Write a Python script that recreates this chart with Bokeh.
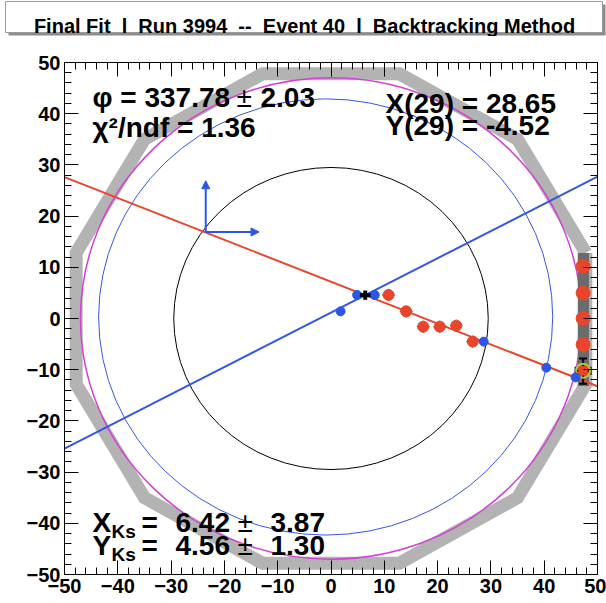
import math
from bokeh.plotting import figure
from bokeh.layouts import column
from bokeh.core.properties import value
from bokeh.models import (Label, Arrow, NormalHead, FixedTicker, LinearAxis, Range1d)
from bokeh.embed import file_html
from bokeh.resources import INLINE

# ---------------- data ----------------
title_text = "Final Fit  l  Run 3994  --  Event 40  l  Backtracking Method"

phi_deg = 337.78
phi_err = 2.03
chi2_ndf = 1.36
r_ref = 29
x_at_r = 28.65
y_at_r = -4.52
x_ks = 6.42
x_ks_err = 3.87
y_ks = 4.56
y_ks_err = 1.30
second_line_slope = 0.531

# hits near the middle (red) and on the outer bar (red)
hit_x = [10.8, 14.1, 17.3, 20.4, 23.5, 26.6]
hit_y = [4.6, 1.4, -1.6, -1.6, -1.4, -4.5]
bar_hit_x = [47.3, 47.3, 47.3, 47.3, 47.3]
bar_hit_y = [10.2, 5.0, 0.0, -5.1, -10.2]
hit_err = 1.2

# blue points (intersections / vertices)
blue_x = [1.8, 4.9, 8.2, 28.65, 40.4, 45.9]
blue_y = [1.4, 4.6, 4.6, -4.52, -9.6, -11.5]

# matched hit on the bar with its error bars
match_x = 47.3
match_y = -10.2
match_x_lo, match_x_hi = 45.9, 48.7
match_y_lo, match_y_hi = -12.75, -7.8

# outer bar (dark rectangle)
bar_left, bar_right, bar_bottom, bar_top = 46.3, 48.4, -13.2, 12.8

# rings
outer_poly_radius = 49.5
outer_poly_sides = 12
magenta_radius = 47.0
blue_circle_cx, blue_circle_cy, blue_circle_r = -1.0, 0.3, 42.6
black_circle_r = 29.5

# local frame at the track
local_ox, local_oy = -23.5, 16.9
local_len = 10.0

axis_ticks = [-50, -40, -30, -20, -10, 0, 10, 20, 30, 40, 50]
axis_tick_labels = ["\u221250", "\u221240", "\u221230", "\u221220", "\u221210", "0",
                    "10", "20", "30", "40", "50"]
minor_ticks = [v for v in range(-50, 51, 2) if v % 10 != 0]

# ---------------- style ----------------
RED = "#e8452c"
BLUE = "#2b57e6"
FONT = "Liberation Sans"
W = 606
TITLE_H = 36
FL, FT, FB = 64, 62, 574  # frame left/top/bottom (page px)

# ---------------- title strip ----------------
t = figure(width=W, height=TITLE_H, x_range=Range1d(0, W), y_range=Range1d(TITLE_H, 0),
           output_backend="svg", toolbar_location=None, title=None,
           x_axis_type=None, y_axis_type=None, min_border=0)
t.frame_align = False
t.grid.visible = False
t.outline_line_color = None
t.background_fill_color = "white"
t.border_fill_color = "white"
t.quad(left=[8], right=[605], top=[4], bottom=[35], fill_color="#8c8c8c", line_color=None)
t.quad(left=[5], right=[602], top=[1], bottom=[32], fill_color="white",
       line_color="#9a9a9a", line_width=1)
shown_title = title_text.replace("  ", " \u00a0")
t.text(x=[304], y=[25], text=[shown_title], text_font=value(FONT), text_font_style="bold",
       text_font_size="20px", text_align="center", text_baseline="alphabetic",
       text_color="black")

# ---------------- main figure ----------------
p = figure(width=W, height=603 - TITLE_H, x_range=Range1d(-50, 50), y_range=Range1d(-50, 50),
           output_backend="svg", toolbar_location=None, title=None,
           min_border_left=FL, min_border_right=9, min_border_top=FT - TITLE_H,
           min_border_bottom=603 - FB)
p.frame_align = False
p.grid.visible = False
p.outline_line_color = "black"
p.background_fill_color = "white"
p.border_fill_color = "white"


def style_axis(ax, labels=True):
    ax.ticker = FixedTicker(ticks=axis_ticks, minor_ticks=minor_ticks)
    ax.major_tick_in = 14
    ax.major_tick_out = 0
    ax.minor_tick_in = 7
    ax.minor_tick_out = 0
    ax.axis_line_color = "black"
    ax.major_tick_line_color = "black"
    ax.minor_tick_line_color = "black"
    if labels:
        ax.major_label_overrides = {tk: s for tk, s in zip(axis_ticks, axis_tick_labels)}
        ax.major_label_text_font = FONT
        ax.major_label_text_font_style = "bold"
        ax.major_label_text_font_size = "20px"
        ax.major_label_text_color = "black"
        ax.major_label_standoff = 4
    else:
        ax.major_label_text_font_size = "1px"
        ax.major_label_text_color = None
        ax.major_label_standoff = 0


style_axis(p.xaxis[0])
style_axis(p.yaxis[0])
top_ax = LinearAxis()
right_ax = LinearAxis()
style_axis(top_ax, labels=False)
style_axis(right_ax, labels=False)
p.add_layout(top_ax, "above")
p.add_layout(right_ax, "right")

# outer polygon (gray, thick)
ang = [math.radians(15 + 360.0 * k / outer_poly_sides) for k in range(outer_poly_sides + 1)]
p.line([outer_poly_radius * math.cos(a) for a in ang],
       [outer_poly_radius * math.sin(a) for a in ang],
       line_color="#b3b3b3", line_width=13, line_join="miter")

# magenta ring
p.ellipse(x=[0], y=[0], width=[2 * magenta_radius], height=[2 * magenta_radius],
          fill_color=None, line_color="#d440d4", line_width=1.5)

# dark bar
p.quad(left=[bar_left], right=[bar_right], bottom=[bar_bottom], top=[bar_top],
       fill_color="#6b6b6b", line_color=None)

# blue circle, black circle
p.ellipse(x=[blue_circle_cx], y=[blue_circle_cy], width=[2 * blue_circle_r],
          height=[2 * blue_circle_r], fill_color=None, line_color="#3a55e0", line_width=1)
p.ellipse(x=[0], y=[0], width=[2 * black_circle_r], height=[2 * black_circle_r],
          fill_color=None, line_color="black", line_width=1)

# fitted track line (red) and second line (blue) through the vertex
slope_red = math.tan(math.radians(phi_deg))
xs_line = [-50, 50]
p.line(xs_line, [y_ks + slope_red * (x - x_ks) for x in xs_line],
       line_color=RED, line_width=2)
p.line(xs_line, [y_ks + second_line_slope * (x - x_ks) for x in xs_line],
       line_color="#3558e0", line_width=2)

# local frame arrows
for xe, ye in [(local_ox, local_oy + local_len), (local_ox + local_len, local_oy)]:
    p.add_layout(Arrow(x_start=local_ox, y_start=local_oy, x_end=xe, y_end=ye,
                       line_color="#2b57e6", line_width=2,
                       end=NormalHead(size=8, fill_color="#2b57e6", line_color="#2b57e6")))

# hit error bars (mostly hidden under markers)
all_hx = hit_x + bar_hit_x
all_hy = hit_y + bar_hit_y
p.segment(x0=[x - hit_err for x in all_hx], y0=all_hy, x1=[x + hit_err for x in all_hx],
          y1=all_hy, line_color="#333333", line_width=1, line_dash="2 2")
p.segment(x0=all_hx, y0=[y - hit_err for y in all_hy], x1=all_hx,
          y1=[y + hit_err for y in all_hy], line_color="#333333", line_width=1, line_dash="2 2")

# hits
p.scatter(hit_x, hit_y, size=11, fill_color=RED, line_color=RED)
p.scatter(bar_hit_x, bar_hit_y, size=14, fill_color=RED, line_color=RED)

# matched hit error bars + ring
p.segment(x0=[match_x], y0=[match_y_lo], x1=[match_x], y1=[match_y_hi],
          line_color="black", line_width=2)
p.segment(x0=[match_x_lo], y0=[match_y], x1=[match_x_hi], y1=[match_y],
          line_color="black", line_width=2)
p.scatter([match_x, match_x], [match_y_lo, match_y_hi], marker="dash", size=8,
          line_color="black", line_width=2)
p.scatter([match_x_lo, match_x_hi], [match_y, match_y], marker="dash", size=8,
          angle=math.pi / 2, line_color="black", line_width=2)
p.scatter([match_x], [match_y], size=9, fill_color=RED, line_color=RED)
p.scatter([match_x], [match_y], size=14, fill_color=None, line_color="#a8cc3a", line_width=2)

# blue points
p.scatter(blue_x, blue_y, size=9, fill_color=BLUE, line_color=BLUE)

# vertex cross
p.segment(x0=[x_ks - 1.0], y0=[y_ks], x1=[x_ks + 1.0], y1=[y_ks], line_color="black", line_width=4)
p.segment(x0=[x_ks], y0=[y_ks - 0.9], x1=[x_ks], y1=[y_ks + 0.9], line_color="black", line_width=4)

# ---------------- texts ----------------

def lab(text, cx, cy, size, bold=True, align="left"):
    p.add_layout(Label(x=cx - FL, y=FB - cy, x_units="screen", y_units="screen", text=text,
                       text_font=FONT, text_font_size=f"{size}px",
                       text_font_style="bold" if bold else "normal",
                       text_align=align, text_baseline="alphabetic", text_color="black"))

lab(f"\u03c6 = {phi_deg:.2f}", 92, 97, 28)
lab("\u00b1", 236, 97, 28, bold=False)
lab(f"{phi_err:.2f}", 260, 97, 28)
lab(f"\u03c7\u00b2/ndf = {chi2_ndf:.2f}", 92, 127, 28)

lab(f"X({r_ref}) = {x_at_r:.2f}", 385, 103, 28)
lab(f"Y({r_ref}) = {y_at_r:.2f}", 385, 125, 28)

for name, base, val, err in [("X", 522, x_ks, x_ks_err), ("Y", 545, y_ks, y_ks_err)]:
    lab(name, 92, base, 28)
    lab("Ks", 111, base + 9, 19)
    lab("=", 141, base, 28)
    lab(f"{val:.2f}", 175, base, 28)
    lab("\u00b1", 237, base, 28, bold=False)
    lab(f"{err:.2f}", 270, base, 28)

layout = column(t, p, spacing=0)
open("out.html", "w").write(file_html(layout, INLINE))
